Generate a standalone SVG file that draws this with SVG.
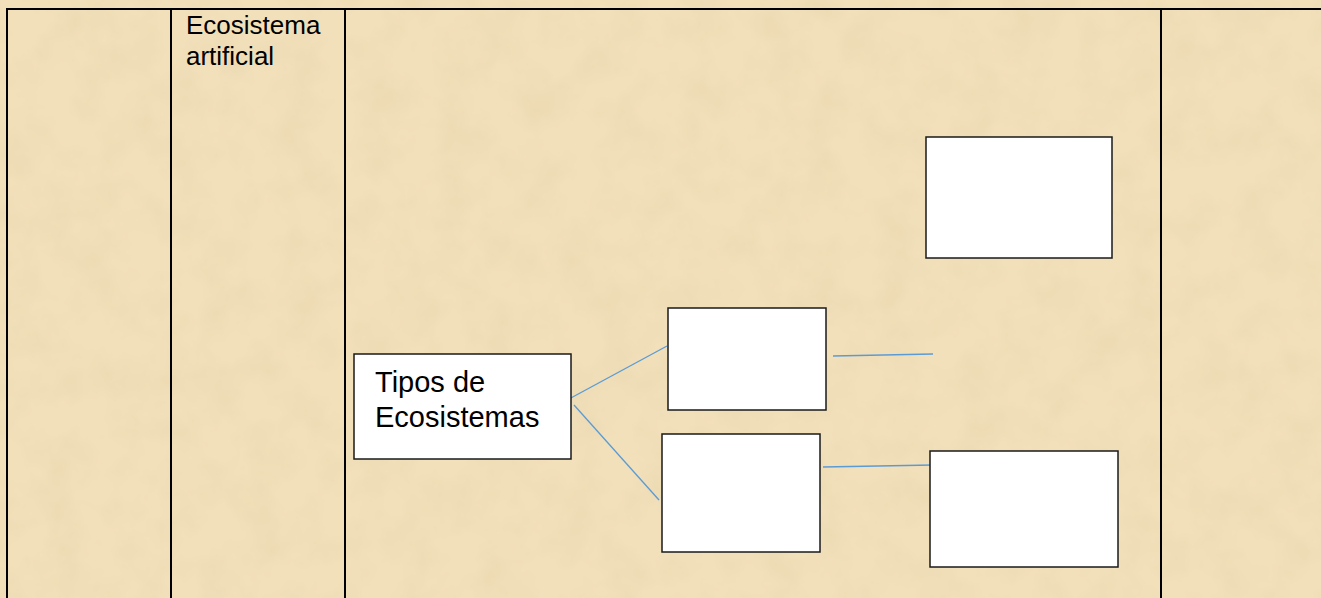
<svg xmlns="http://www.w3.org/2000/svg" width="1321" height="598" viewBox="0 0 1321 598">
  <defs>
    <style>
      .grid { stroke: #000; stroke-width: 2; fill: none; }
      .box { fill: #fff; stroke: #1a1a1a; stroke-width: 1.5; }
      .conn { stroke: #5b9bd5; stroke-width: 1.3; fill: none; }
      .t { font-family: "Liberation Sans", Arial, sans-serif; fill: #000; }
    </style>
    <filter id="grain" x="0" y="0" width="100%" height="100%">
      <feTurbulence type="fractalNoise" baseFrequency="0.025" numOctaves="4" seed="4" result="n"/>
      <feColorMatrix in="n" type="matrix" values="0 0 0 0 0.84  0 0 0 0 0.70  0 0 0 0 0.45  0 0 0 1.8 -0.7" result="c"/>
      <feComposite in="c" in2="SourceGraphic" operator="over"/>
    </filter>
  </defs>
  <rect width="1321" height="598" fill="#f2e0ba" filter="url(#grain)"/>
  <g id="table">
    <line class="grid" x1="6" y1="9" x2="1321" y2="9"/>
    <line class="grid" x1="7" y1="9" x2="7" y2="598"/>
    <line class="grid" x1="171" y1="9" x2="171" y2="598"/>
    <line class="grid" x1="345" y1="9" x2="345" y2="598"/>
    <line class="grid" x1="1161" y1="9" x2="1161" y2="598"/>
    <text class="t" x="186" y="34" font-size="26">Ecosistema</text>
    <text class="t" x="186" y="65" font-size="26">artificial</text>
  </g>
  <g id="connectors">
    <line class="conn" x1="569" y1="399" x2="667" y2="346"/>
    <line class="conn" x1="574" y1="405" x2="659" y2="500"/>
    <line class="conn" x1="833" y1="356" x2="933" y2="354"/>
    <line class="conn" x1="823" y1="467" x2="933" y2="465"/>
  </g>
  <g id="tipos">
    <rect class="box" x="354" y="354" width="217" height="105"/>
    <text class="t" x="375" y="392" font-size="29">Tipos de</text>
    <text class="t" x="375" y="427" font-size="29">Ecosistemas</text>
  </g>
  <g id="box-a"><rect class="box" x="668" y="308" width="158" height="102"/></g>
  <g id="box-b"><rect class="box" x="662" y="434" width="158" height="118"/></g>
  <g id="box-c"><rect class="box" x="926" y="137" width="186" height="121"/></g>
  <g id="box-d"><rect class="box" x="930" y="451" width="188" height="116"/></g>
</svg>
